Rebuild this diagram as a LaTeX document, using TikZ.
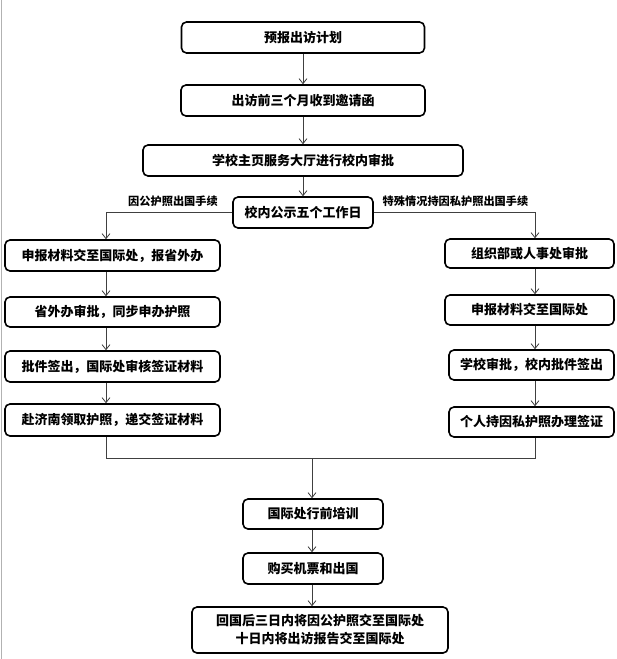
\documentclass[tikz,border=0pt]{standalone}
\usepackage{fontspec}
\newfontfamily\cjk{Noto Sans CJK SC}
\usetikzlibrary{arrows.meta}
\tikzset{
  box/.style={draw=black, line width=1.6pt, rounded corners=5pt, inner sep=0pt, align=center,
    font=\cjk\bfseries\fontsize{13}{18}\selectfont},
  conn/.style={draw=black!75, line width=0.8pt},
  arr/.style={conn, -{Straight Barb[length=5pt,width=8pt]}},
  lbl/.style={inner sep=0pt, font=\cjk\bfseries\fontsize{11.2}{12}\selectfont}
}
\begin{document}
\begin{tikzpicture}[x=1pt,y=-1pt]
\useasboundingbox (0,0) rectangle (617,659);
\draw[black!30, line width=1pt] (1,0) -- (1,659);
\node[box, minimum width=243pt, minimum height=31pt] (b1) at (303,37.5) {预报出访计划};
\node[box, minimum width=244pt, minimum height=31pt] (b2) at (303,100.5) {出访前三个月收到邀请函};
\node[box, minimum width=320pt, minimum height=31pt] (b3) at (303,160.5) {学校主页服务大厅进行校内审批};
\node[box, minimum width=140pt, minimum height=31pt] (b4) at (303,212.5) {校内公示五个工作日};
\node[box, minimum width=215pt, minimum height=31pt] (L1) at (112.5,255.5) {申报材料交至国际处，报省外办};
\node[box, minimum width=215pt, minimum height=30pt] (L2) at (112.5,312) {省外办审批，同步申办护照};
\node[box, minimum width=215pt, minimum height=31pt] (L3) at (112.5,366.5) {批件签出，国际处审核签证材料};
\node[box, minimum width=215pt, minimum height=32pt] (L4) at (112.5,420) {赴济南领取护照，递交签证材料};
\node[box, minimum width=169pt, minimum height=29pt] (R1) at (529.5,253.5) {组织部或人事处审批};
\node[box, minimum width=169pt, minimum height=30pt] (R2) at (529.5,310) {申报材料交至国际处};
\node[box, minimum width=165pt, minimum height=30pt] (R3) at (531.5,365) {学校审批，校内批件签出};
\node[box, minimum width=165pt, minimum height=30pt] (R4) at (531.5,422) {个人持因私护照办理签证};
\node[box, minimum width=140pt, minimum height=30pt] (T1) at (313,514) {国际处行前培训};
\node[box, minimum width=140pt, minimum height=31pt] (T2) at (313,568.5) {购买机票和出国};
\node[box, minimum width=256pt, minimum height=46pt] (T3) at (320,630) {回国后三日内将因公护照交至国际处\\十日内将出访报告交至国际处};
\node[lbl] (la) at (173,201) {因公护照出国手续};
\node[lbl] (lb) at (455.5,201) {特殊情况持因私护照出国手续};
\coordinate (lx) at (106,0);
\coordinate (rx) at (535,0);
\coordinate (mx) at (312,0);
\coordinate (ml) at (106,458);
\coordinate (mr) at (535,458);
\coordinate (mm) at (312,458);
\draw[arr] (b1) -- (b2);
\draw[arr] (b2) -- (b3);
\draw[arr] (b3) -- (b4);
\draw[arr] (b4.west) -| (L1.north -| lx);
\draw[arr] (b4.east) -| (R1.north -| rx);
\draw[arr] (L1.south -| lx) -- (L2.north -| lx);
\draw[arr] (L2.south -| lx) -- (L3.north -| lx);
\draw[arr] (L3.south -| lx) -- (L4.north -| lx);
\draw[arr] (R1.south -| rx) -- (R2.north -| rx);
\draw[arr] (R2.south -| rx) -- (R3.north -| rx);
\draw[arr] (R3.south -| rx) -- (R4.north -| rx);
\draw[conn] (L4.south -| lx) -- (ml) -- (mr) -- (R4.south -| rx);
\draw[arr] (mm) -- (T1.north -| mx);
\draw[arr] (T1.south -| mx) -- (T2.north -| mx);
\draw[arr] (T2.south -| mx) -- (T3.north -| mx);
\end{tikzpicture}
\end{document}
